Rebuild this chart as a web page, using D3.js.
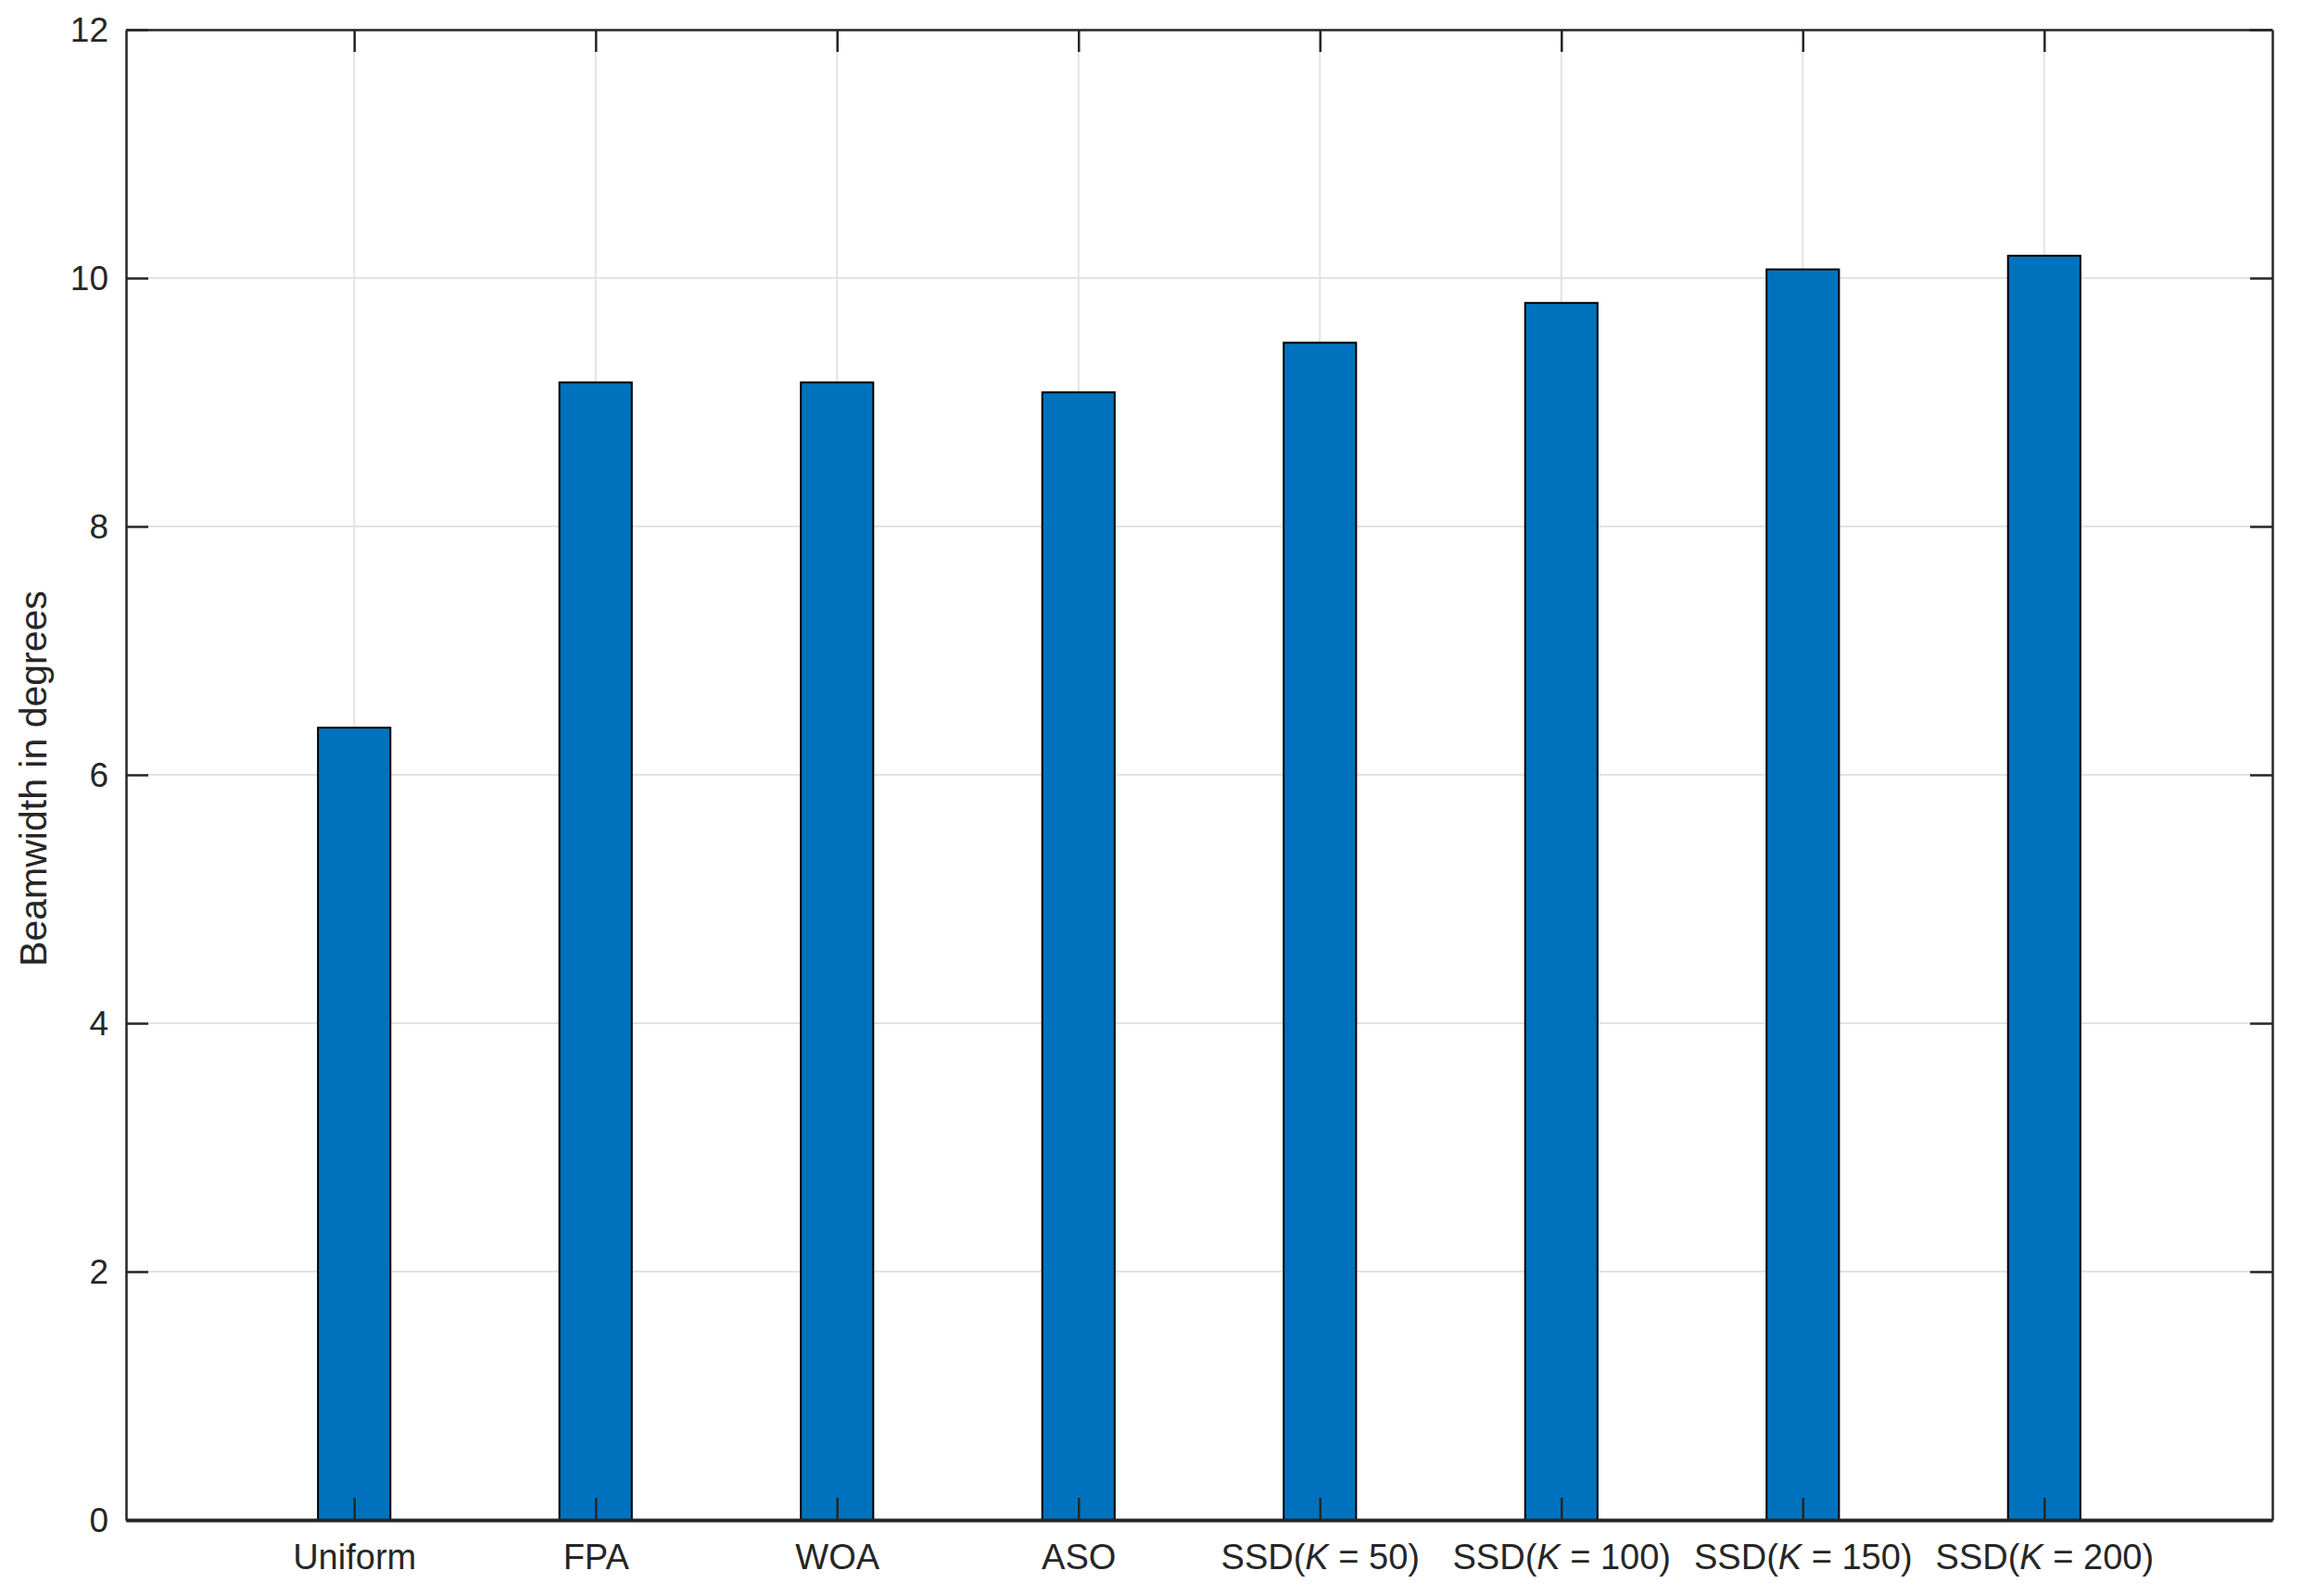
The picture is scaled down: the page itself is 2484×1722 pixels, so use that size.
<!DOCTYPE html>
<html>
<head>
<meta charset="utf-8">
<script src="https://cdn.jsdelivr.net/npm/d3@7"></script>
<style>
    body { margin: 0; background: #fff; }
    svg { display: block; font-family: "Liberation Sans", Arial, Helvetica, sans-serif; }
</style>
</head>
<body>
<svg id="chart" width="2484" height="1722"></svg>
<script>
const categories = ["Uniform", "FPA", "WOA", "ASO", "SSD(K = 50)", "SSD(K = 100)", "SSD(K = 150)", "SSD(K = 200)"];
const beamwidth = [6.38, 9.16, 9.16, 9.08, 9.48, 9.80, 10.07, 10.18];
const yTicks = [0, 2, 4, 6, 8, 10, 12];
const yLabel = "Beamwidth in degrees";

const margin = { top: 32, right: 32, bottom: 82, left: 136 };
const width = 2484 - margin.left - margin.right;
const height = 1722 - margin.top - margin.bottom;

const svg = d3.select("#chart")
    .append("g")
    .attr("transform", `translate(${margin.left},${margin.top})`);

const idx = categories.map((d, i) => i + 1);

const x = d3.scaleLinear()
    .domain([1 - 0.945, categories.length + 0.945])
    .range([0, width]);

const y = d3.scaleLinear()
    .domain([0, 12])
    .range([height, 0]);

const barWidth = x(1.3) - x(1);
const axisColor = "#262626";
const tickLen = 24;

// grid lines
svg.append("g")
    .selectAll("line")
    .data(yTicks)
    .enter()
    .append("line")
    .attr("x1", 0)
    .attr("x2", width)
    .attr("y1", d => y(d))
    .attr("y2", d => y(d))
    .attr("stroke", "#e3e3e3")
    .attr("stroke-width", 2);

svg.append("g")
    .selectAll("line")
    .data(idx)
    .enter()
    .append("line")
    .attr("x1", d => x(d))
    .attr("x2", d => x(d))
    .attr("y1", 0)
    .attr("y2", height)
    .attr("stroke", "#e3e3e3")
    .attr("stroke-width", 2);

// bars
svg.append("g")
    .selectAll("rect")
    .data(beamwidth)
    .enter()
    .append("rect")
    .attr("x", (d, i) => x(i + 1) - barWidth / 2)
    .attr("y", d => y(d))
    .attr("width", barWidth)
    .attr("height", d => y(0) - y(d))
    .attr("fill", "#0072BD")
    .attr("stroke", "#000")
    .attr("stroke-width", 2);

// axes with inward ticks, mirrored on top and right
const styleAxis = g => {
    g.select(".domain").attr("stroke", axisColor).attr("stroke-width", 2.5);
    g.selectAll(".tick line").attr("stroke", axisColor).attr("stroke-width", 2.5);
    g.selectAll("text").attr("fill", axisColor).style("font-size", "37px");
};

svg.append("g")
    .call(d3.axisLeft(y).tickValues(yTicks).tickSize(-tickLen).tickPadding(19).tickSizeOuter(0))
    .call(styleAxis)
    .call(g => g.selectAll("text").attr("dy", "0.35em"));

svg.append("g")
    .attr("transform", `translate(${width},0)`)
    .call(d3.axisRight(y).tickValues(yTicks).tickSize(-tickLen).tickFormat("").tickSizeOuter(0))
    .call(styleAxis);

svg.append("g")
    .call(d3.axisTop(x).tickValues(idx).tickSize(-tickLen).tickFormat("").tickSizeOuter(0))
    .call(styleAxis);

const xAxis = svg.append("g")
    .attr("transform", `translate(0,${height})`)
    .call(d3.axisBottom(x).tickValues(idx).tickSize(-tickLen).tickFormat("").tickSizeOuter(0))
    .call(styleAxis);

xAxis.select(".domain").attr("stroke-width", 4);

// x tick labels with italic K
xAxis.selectAll(".tick")
    .append("text")
    .attr("y", 26)
    .attr("dy", "0.71em")
    .attr("text-anchor", "middle")
    .attr("fill", axisColor)
    .style("font-size", "38px")
    .each(function (d) {
        const label = categories[d - 1];
        const t = d3.select(this);
        const m = label.match(/^(.*\()K( = .*)$/);
        if (m) {
            t.append("tspan").text(m[1]);
            t.append("tspan").style("font-style", "italic").text("K");
            t.append("tspan").text(m[2]);
        } else {
            t.text(label);
        }
    });

// y axis label
svg.append("text")
    .attr("transform", "rotate(-90)")
    .attr("x", -height / 2 - 4)
    .attr("y", -margin.left + 50)
    .attr("text-anchor", "middle")
    .attr("fill", axisColor)
    .style("font-size", "41px")
    .text(yLabel);
</script>
</body>
</html>
